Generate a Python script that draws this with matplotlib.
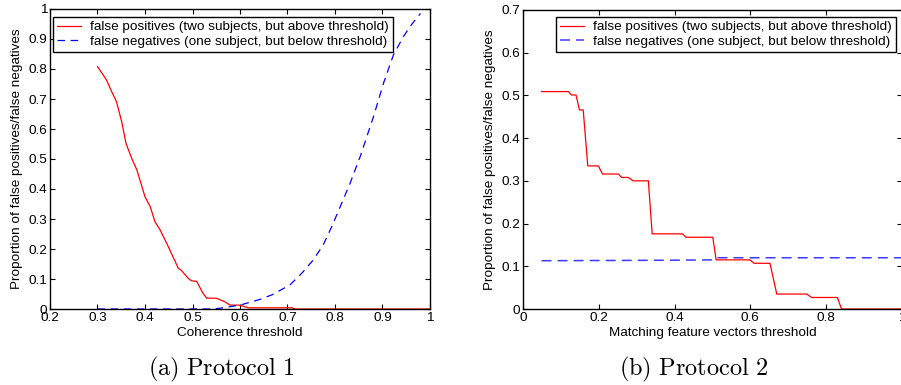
import matplotlib
matplotlib.use("Agg")
import matplotlib.pyplot as plt

plt.rcParams['font.family'] = ['Liberation Sans', 'DejaVu Sans']
plt.rcParams['mathtext.fontset'] = 'cm'

# Protocol 1 (coherence threshold)
coh_fp_x = [0.300, 0.312, 0.319, 0.330, 0.340, 0.351, 0.360, 0.372, 0.383, 0.400,
            0.411, 0.421, 0.432, 0.449, 0.470, 0.477, 0.491, 0.498, 0.509, 0.521,
            0.530, 0.550, 0.568, 0.579, 0.598, 0.618, 0.709, 0.716, 1.000]
coh_fp_y = [0.808, 0.780, 0.763, 0.724, 0.691, 0.624, 0.552, 0.502, 0.463, 0.374,
            0.341, 0.291, 0.263, 0.208, 0.136, 0.128, 0.102, 0.094, 0.092, 0.055,
            0.036, 0.036, 0.024, 0.013, 0.013, 0.004, 0.004, 0.000, 0.000]
coh_fn_x = [0.300, 0.540, 0.560, 0.580, 0.600, 0.620, 0.640, 0.667, 0.705, 0.730,
            0.754, 0.775, 0.793, 0.811, 0.832, 0.853, 0.881, 0.902, 0.923, 0.944,
            0.962, 0.980]
coh_fn_y = [0.000, 0.000, 0.003, 0.008, 0.013, 0.022, 0.031, 0.047, 0.080, 0.119,
            0.163, 0.213, 0.274, 0.341, 0.420, 0.508, 0.641, 0.752, 0.847, 0.908,
            0.950, 0.985]

# Protocol 2 (matching feature vectors threshold)
mfv_fp_x = [0.049, 0.120, 0.128, 0.140, 0.149, 0.159, 0.171, 0.199, 0.210, 0.252,
            0.260, 0.278, 0.291, 0.331, 0.341, 0.421, 0.430, 0.501, 0.510, 0.599,
            0.610, 0.652, 0.670, 0.749, 0.762, 0.830, 0.841, 1.000]
mfv_fp_y = [0.509, 0.509, 0.501, 0.501, 0.466, 0.466, 0.335, 0.335, 0.316, 0.316,
            0.308, 0.308, 0.300, 0.300, 0.176, 0.176, 0.168, 0.168, 0.115, 0.115,
            0.107, 0.107, 0.035, 0.035, 0.027, 0.027, 0.000, 0.000]
mfv_fn_x = [0.049, 0.350, 0.500, 0.510, 1.000]
mfv_fn_y = [0.113, 0.114, 0.115, 0.120, 0.120]

fp_label = "false positives (two subjects, but above threshold)"
fn_label = "false negatives (one subject, but below threshold)"
ylab = "Proportion of false positives/false negatives"

W, H = 901, 385
fig = plt.figure(figsize=(W / 100, H / 100), dpi=100)


def setup(ax, xlabel):
    for s in ax.spines.values():
        s.set_linewidth(1.0)
    ax.tick_params(direction='in', length=3.5, width=0.8, top=True, right=True,
                   labelsize=9.7, pad=2)
    ax.set_xlabel(xlabel, fontsize=9.7, labelpad=2)
    ax.set_ylabel(ylab, fontsize=9.7, labelpad=4)


def add_legend(ax, loc, anchor):
    leg = ax.legend(loc=loc, bbox_to_anchor=anchor, borderaxespad=0,
                    fontsize=9.7, fancybox=False, framealpha=1,
                    edgecolor='black', handlelength=1.75, handletextpad=0.7,
                    labelspacing=0.12, borderpad=0.3)
    leg.get_frame().set_linewidth(1.0)
    return leg


# left panel
ax1 = fig.add_axes([50 / W, (H - 309) / H, 380 / W, 300 / H])
ax1.plot(coh_fp_x, coh_fp_y, color='red', lw=0.9, label=fp_label)
ax1.plot(coh_fn_x, coh_fn_y, color='blue', lw=0.9, dashes=(6, 4.5), label=fn_label)
ax1.set_xlim(0.2, 1.0)
ax1.set_ylim(0, 1.0)
ax1.set_xticks([0.2, 0.3, 0.4, 0.5, 0.6, 0.7, 0.8, 0.9, 1.0])
ax1.set_xticklabels(['0.2', '0.3', '0.4', '0.5', '0.6', '0.7', '0.8', '0.9', '1'])
ax1.set_yticks([0, 0.1, 0.2, 0.3, 0.4, 0.5, 0.6, 0.7, 0.8, 0.9, 1.0])
ax1.set_yticklabels(['0', '0.1', '0.2', '0.3', '0.4', '0.5', '0.6', '0.7', '0.8', '0.9', '1'])
setup(ax1, "Coherence threshold")
add_legend(ax1, 'upper left', (3 / 380, 1 - 8 / 300))

# right panel
ax2 = fig.add_axes([523 / W, (H - 309) / H, 378.75 / W, 299 / H])
ax2.plot(mfv_fp_x, mfv_fp_y, color='red', lw=0.9, label=fp_label)
ax2.plot(mfv_fn_x, mfv_fn_y, color='#3a3aff', lw=1.1, dashes=(6.5, 4), label=fn_label)
ax2.set_xlim(0, 1.0)
ax2.set_ylim(0, 0.7)
ax2.set_xticks([0, 0.2, 0.4, 0.6, 0.8, 1.0])
ax2.set_xticklabels(['0', '0.2', '0.4', '0.6', '0.8', '1'])
ax2.set_yticks([0, 0.1, 0.2, 0.3, 0.4, 0.5, 0.6, 0.7])
ax2.set_yticklabels(['0', '0.1', '0.2', '0.3', '0.4', '0.5', '0.6', '0.7'])
setup(ax2, "Matching feature vectors threshold")
add_legend(ax2, 'upper right', (1 - 5.75 / 378.75, 1 - 7 / 299))

# captions
fig.text(221 / W, 1 - 369 / H, r'$\mathrm{(a)\ Protocol\ 1}$', fontsize=17.5,
         ha='center', va='center')
fig.text(693.5 / W, 1 - 369 / H, r'$\mathrm{(b)\ Protocol\ 2}$', fontsize=17.5,
         ha='center', va='center')

fig.savefig("out.png", dpi=100)
